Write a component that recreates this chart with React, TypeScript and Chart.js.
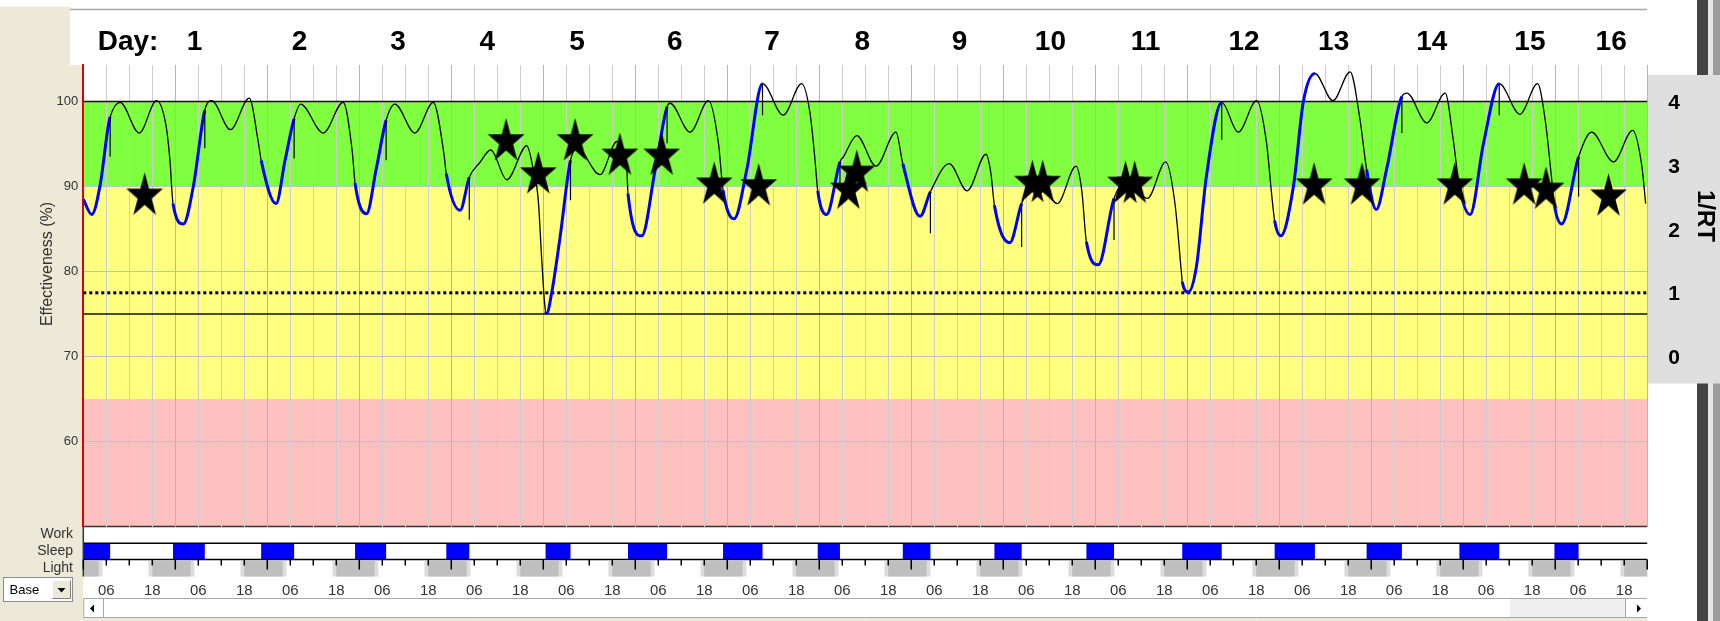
import React, { useEffect, useRef } from 'react';
import { Chart, registerables } from 'chart.js';

Chart.register(...registerables);

// ---------- DATA ----------
const effHours = [
  0, 2.2, 4.4, 6.5, 7.0, 9.6, 14.6, 19.1, 21.6, 22.6,
  23.4, 26.1, 28.7, 31.7, 33.5, 38.4, 43.3, 45.7,
  46.4, 50.3, 52.6, 55.0, 56.7, 62.6, 67.8, 70.2,
  70.9, 73.9, 76.4, 79.0, 81.3, 86.5, 91.3, 94.1,
  94.7, 98.3, 100.7, 103.4, 106.3, 110.5, 115.7, 117.4, 118.7, 119.6,
  120.6, 120.9, 122.2, 124.4, 127.1, 128.9, 134.8, 139.2, 141.8,
  142.1, 145.7, 149.2, 152.3, 153.1, 158.3, 163.1, 165.7,
  166.9, 169.8, 173.1, 177.2, 182.6, 187.4, 189.6, 190.9,
  191.6, 193.9, 197.4, 198.3, 201.8, 206.8, 212.0,
  213.8, 218.3, 221.0, 225.9, 230.6, 235.5, 236.8,
  237.7, 241.7, 244.8, 248.7, 254.1, 259.0, 260.5,
  261.7, 264.8, 268.9, 272.2, 277.6, 282.4, 284.8, 286.5,
  286.7, 288.3, 290.4, 293.0, 297.0, 301.3, 306.1, 308.7, 310.0,
  310.8, 312.4, 315.7, 318.3, 321.3, 326.0, 330.5, 333.1,
  334.8, 337.3, 340.0, 344.0, 345.3, 350.5, 355.3, 357.4,
  359.0, 361.8, 365.3, 369.4, 374.8, 379.4, 381.4, 383.1,
  383.8, 385.7, 390.1, 393.5, 399.2, 404.2, 406.6, 407.6,
];
const effValues = [
  88.5, 86.7, 90.2, 97.1, 98.2, 99.9, 96.3, 100.1, 97.1, 93.1,
  88.0, 85.6, 90.0, 99.0, 100.1, 96.7, 100.4, 95.1,
  93.1, 88.0, 93.0, 98.0, 99.7, 96.3, 99.9, 94.0,
  90.4, 86.8, 92.0, 97.8, 99.7, 96.3, 99.9, 93.8,
  91.5, 87.2, 91.1, 92.8, 94.3, 90.8, 94.8, 92.0, 88.4, 81.4,
  75.3, 75.1, 77.5, 84.1, 93.1, 94.5, 91.4, 95.3, 92.0,
  89.2, 84.2, 92.0, 99.4, 99.8, 96.4, 100.1, 95.1,
  89.6, 86.2, 92.0, 102.1, 98.4, 102.1, 98.6, 93.1,
  89.5, 86.7, 92.9, 93.5, 96.0, 92.4, 96.4,
  92.7, 86.5, 89.4, 92.7, 89.5, 93.8, 91.5,
  87.8, 83.4, 88.0, 91.0, 88.0, 92.4, 89.5,
  83.5, 80.8, 88.6, 90.6, 88.6, 92.9, 88.0, 79.8,
  78.8, 77.6, 80.6, 91.2, 99.9, 96.4, 100.1, 95.1, 89.2,
  86.0, 84.2, 90.0, 100.0, 103.3, 100.1, 103.5, 97.8,
  92.0, 87.3, 92.0, 100.6, 101.0, 97.5, 101.0, 95.5,
  90.0, 86.7, 95.1, 102.1, 98.5, 102.1, 97.8, 90.8,
  87.8, 85.6, 93.5, 96.4, 92.9, 96.6, 92.4, 88.0,
];

const sleepStart = [0, 23.4, 46.4, 70.9, 94.7, 120.6, 142.1, 166.9, 191.6, 213.8, 237.7, 261.7, 286.7, 310.8, 334.8, 359.0, 383.8];
const sleepEnd = [7.0, 31.7, 55.0, 79.0, 100.7, 127.1, 152.3, 177.2, 197.4, 221.0, 244.8, 268.9, 297.0, 321.3, 344.0, 369.4, 390.1];

const spikeHours = [7.0, 31.7, 55.0, 79.0, 100.7, 127.1, 152.3, 177.2, 197.4, 221.0, 244.8, 268.9, 297.0, 344.0, 369.4, 390.1];
const spikeLows = [93.5, 94.5, 93.3, 93.1, 86.1, 88.4, 95.1, 98.4, 89.6, 84.5, 82.9, 83.7, 95.5, 96.3, 98.4, 88.8];

const starHours = [16.0, 110.3, 118.7, 128.3, 140.0, 150.9, 164.6, 176.2, 199.6, 201.8, 247.6, 250.3, 271.9, 274.3, 321.1, 333.6, 357.8, 375.9, 381.6, 397.9];
const starValues = [88.9, 95.3, 91.4, 95.3, 93.6, 93.6, 90.2, 90.0, 89.6, 91.6, 90.4, 90.4, 90.3, 90.3, 90.1, 90.1, 90.1, 90.1, 89.6, 88.8];

const dayLabels = ['1', '2', '3', '4', '5', '6', '7', '8', '9', '10', '11', '12', '13', '14', '15', '16'];
const dayLabelHours = [29.0, 56.4, 82.1, 105.4, 128.8, 154.3, 179.7, 203.2, 228.6, 252.3, 277.1, 302.8, 326.2, 351.8, 377.4, 398.6];

const darkStart = [-6, 18, 42, 66, 90, 114, 138, 162, 186, 210, 234, 258, 282, 306, 330, 354, 378, 402];
const darkEnd = [4, 28, 52, 76, 100, 124, 148, 172, 196, 220, 244, 268, 292, 316, 340, 364, 388, 412];
const twilightHours = 1;

const yTickValues = [60, 70, 80, 90, 100];
const rtTickValues = [0, 1, 2, 3, 4];
const xLabelHours = [6, 18];
const xLabelTexts = ['06', '18'];

const greenBand = [90, 100];
const yellowBand = [65, 90];
const pinkBand = [50, 65];
const solidRefLines = [100, 75];
const dottedRefLine = 77.5;

// ---------- STYLE ----------
const BEIGE = '#ECE9D8';
const FONT = "'Liberation Sans', Arial, sans-serif";
const W = 1720;
const H = 621;

function makeStar(rx: number, ry: number) {
  const c = document.createElement('canvas');
  c.width = Math.ceil(rx * 2) + 2;
  c.height = Math.ceil(ry * 2) + 2;
  const g = c.getContext('2d')!;
  g.translate(c.width / 2, c.height / 2);
  g.beginPath();
  for (let k = 0; k < 10; k++) {
    const r = k % 2 === 0 ? 1 : 0.382;
    const a = -Math.PI / 2 + (k * Math.PI) / 5;
    const px = Math.cos(a) * r * rx;
    const py = Math.sin(a) * r * ry;
    if (k === 0) g.moveTo(px, py);
    else g.lineTo(px, py);
  }
  g.closePath();
  g.fillStyle = '#000';
  g.fill();
  return c;
}

function inSleep(t: number) {
  for (let i = 0; i < sleepStart.length; i++) {
    if (t >= sleepStart[i] && t <= sleepEnd[i]) return true;
  }
  return false;
}

const ROW_WORK_TOP = 526.6;
const ROW_SLEEP_TOP = 543.3;
const ROW_SLEEP_BOT = 559.6;
const ROW_LIGHT_BOT = 576.5;
const SCROLL_TOP = 598.5;
const SCROLL_BOT = 617.5;

const bgPlugin = {
  id: 'bgPlugin',
  beforeDraw(chart: any) {
    const { ctx, chartArea: ca, scales } = chart;
    const x = scales.x;
    const y = scales.y;
    const xp = (h: number) => Math.max(ca.left, Math.min(ca.right, x.getPixelForValue(h)));
    ctx.save();
    ctx.fillStyle = '#fff';
    ctx.fillRect(0, 0, W, H);
    // beige surround
    ctx.fillStyle = BEIGE;
    ctx.fillRect(0, 6.5, 70, H);
    ctx.fillRect(0, ca.top, ca.left, H - ca.top);
    ctx.fillRect(0, SCROLL_BOT, ca.right, H - SCROLL_BOT);
    // header
    ctx.fillStyle = '#fff';
    ctx.fillRect(70, 9.5, ca.right - 70, ca.top - 9.5);
    ctx.strokeStyle = '#a8a8a8';
    ctx.lineWidth = 1.5;
    ctx.beginPath();
    ctx.moveTo(70, 9.5);
    ctx.lineTo(ca.right, 9.5);
    ctx.stroke();
    // right-hand dark bars
    ctx.fillStyle = '#454545';
    ctx.fillRect(1697, 0, 11, H);
    ctx.fillStyle = '#e6e6e6';
    ctx.fillRect(1708, 0, 5, H);
    ctx.fillStyle = '#9c9c9c';
    ctx.fillRect(1713, 0, 7, H);
    // right grey panel
    ctx.fillStyle = '#dfdfdf';
    ctx.fillRect(1647, 75, W - 1647, 383.5 - 75);
    // bands
    const band = (b: number[], col: string) => {
      const y1 = y.getPixelForValue(b[1]);
      const y0 = y.getPixelForValue(b[0]);
      ctx.fillStyle = col;
      ctx.fillRect(ca.left, y1, ca.right - ca.left, y0 - y1);
    };
    band(greenBand, '#80FF40');
    band(yellowBand, '#FFFF80');
    band(pinkBand, '#FFC0C0');

    // rows
    ctx.fillStyle = '#fff';
    ctx.fillRect(ca.left, ROW_WORK_TOP, ca.right - ca.left, SCROLL_BOT - ROW_WORK_TOP);
    // sleep blocks
    ctx.fillStyle = '#0000FF';
    for (let i = 0; i < sleepStart.length; i++) {
      const a = xp(sleepStart[i]);
      const b = xp(sleepEnd[i]);
      ctx.fillRect(a, ROW_SLEEP_TOP, b - a, ROW_SLEEP_BOT - ROW_SLEEP_TOP);
    }
    // light blocks
    for (let i = 0; i < darkStart.length; i++) {
      const a = xp(darkStart[i] - twilightHours);
      const b = xp(darkEnd[i] + twilightHours);
      if (b > a) {
        ctx.fillStyle = '#dcdcdc';
        ctx.fillRect(a, ROW_SLEEP_BOT + 1.5, b - a, ROW_LIGHT_BOT - ROW_SLEEP_BOT - 1.5);
      }
      const c = xp(darkStart[i]);
      const d = xp(darkEnd[i]);
      if (d > c) {
        ctx.fillStyle = '#bfbfbf';
        ctx.fillRect(c, ROW_SLEEP_BOT + 1.5, d - c, ROW_LIGHT_BOT - ROW_SLEEP_BOT - 1.5);
      }
    }
    // row lines
    ctx.strokeStyle = '#000';
    ctx.lineWidth = 1.5;
    ctx.beginPath();
    ctx.moveTo(ca.left, ROW_SLEEP_TOP);
    ctx.lineTo(ca.right, ROW_SLEEP_TOP);
    ctx.moveTo(ca.left, ROW_SLEEP_BOT);
    ctx.lineTo(ca.right, ROW_SLEEP_BOT);
    ctx.stroke();
    ctx.strokeStyle = '#333';
    ctx.beginPath();
    ctx.moveTo(ca.left, ca.bottom);
    ctx.lineTo(ca.right, ca.bottom);
    ctx.moveTo(ca.left, ca.bottom);
    ctx.lineTo(ca.left, ROW_LIGHT_BOT);
    ctx.stroke();
    // light-row ticks
    ctx.strokeStyle = '#000';
    ctx.lineWidth = 1.5;
    ctx.beginPath();
    x.ticks.forEach((t: any) => {
      const px = x.getPixelForValue(t.value);
      const long = Math.round(t.value) % 24 === 0;
      ctx.moveTo(px, ROW_SLEEP_BOT);
      ctx.lineTo(px, ROW_SLEEP_BOT + (long ? 10 : 6));
    });
    ctx.stroke();

    // scrollbar
    ctx.fillStyle = '#fff';
    ctx.fillRect(ca.left, SCROLL_TOP, ca.right - ca.left, SCROLL_BOT - SCROLL_TOP);
    ctx.fillStyle = '#efefef';
    ctx.fillRect(1510, SCROLL_TOP, 1625 - 1510, SCROLL_BOT - SCROLL_TOP);
    ctx.strokeStyle = '#a8a8a8';
    ctx.lineWidth = 1;
    ctx.beginPath();
    ctx.moveTo(ca.left, SCROLL_TOP);
    ctx.lineTo(ca.right, SCROLL_TOP);
    ctx.moveTo(ca.left, SCROLL_BOT);
    ctx.lineTo(ca.right, SCROLL_BOT);
    ctx.moveTo(ca.left + 0.5, SCROLL_TOP);
    ctx.lineTo(ca.left + 0.5, SCROLL_BOT);
    ctx.moveTo(103.5, SCROLL_TOP);
    ctx.lineTo(103.5, SCROLL_BOT);
    ctx.moveTo(1625.5, SCROLL_TOP);
    ctx.lineTo(1625.5, SCROLL_BOT);
    ctx.stroke();
    ctx.fillStyle = '#000';
    ctx.beginPath();
    ctx.moveTo(90, 608.5);
    ctx.lineTo(94, 604.5);
    ctx.lineTo(94, 612.5);
    ctx.closePath();
    ctx.fill();
    ctx.beginPath();
    ctx.moveTo(1641, 608.5);
    ctx.lineTo(1637, 604.5);
    ctx.lineTo(1637, 612.5);
    ctx.closePath();
    ctx.fill();

    // Base dropdown
    ctx.fillStyle = '#fff';
    ctx.fillRect(3, 577, 70, 25);
    ctx.strokeStyle = '#8c8c8c';
    ctx.lineWidth = 1;
    ctx.strokeRect(3.5, 577.5, 69, 24);
    ctx.fillStyle = BEIGE;
    ctx.fillRect(52, 580, 19, 19);
    ctx.strokeStyle = '#fff';
    ctx.beginPath();
    ctx.moveTo(52.5, 598.5);
    ctx.lineTo(52.5, 580.5);
    ctx.lineTo(70.5, 580.5);
    ctx.stroke();
    ctx.strokeStyle = '#808080';
    ctx.beginPath();
    ctx.moveTo(70.5, 580.5);
    ctx.lineTo(70.5, 598.5);
    ctx.lineTo(52.5, 598.5);
    ctx.stroke();
    ctx.fillStyle = '#000';
    ctx.beginPath();
    ctx.moveTo(57.5, 588);
    ctx.lineTo(65.5, 588);
    ctx.lineTo(61.5, 592.5);
    ctx.closePath();
    ctx.fill();
    ctx.restore();
  },
  beforeDatasetsDraw(chart: any) {
    const { ctx, chartArea: ca, scales } = chart;
    const y = scales.y;
    ctx.save();
    ctx.strokeStyle = '#111';
    ctx.lineWidth = 1.5;
    solidRefLines.forEach((v) => {
      const yy = y.getPixelForValue(v);
      ctx.beginPath();
      ctx.moveTo(ca.left, yy);
      ctx.lineTo(ca.right, yy);
      ctx.stroke();
    });
    ctx.strokeStyle = '#000';
    ctx.lineWidth = 3;
    ctx.setLineDash([3, 3]);
    const yd = y.getPixelForValue(dottedRefLine);
    ctx.beginPath();
    ctx.moveTo(ca.left, yd);
    ctx.lineTo(ca.right, yd);
    ctx.stroke();
    ctx.restore();
  },
  afterDraw(chart: any) {
    const { ctx, scales } = chart;
    const x = scales.x;
    ctx.save();
    // header
    ctx.fillStyle = '#000';
    ctx.font = `bold 28px ${FONT}`;
    ctx.textAlign = 'center';
    ctx.textBaseline = 'alphabetic';
    ctx.fillText('Day:', 128, 49.5);
    dayLabels.forEach((lab, i) => {
      ctx.fillText(lab, x.getPixelForValue(dayLabelHours[i]), 49.5);
    });
    // y title
    ctx.save();
    ctx.translate(47.5, 264);
    ctx.rotate(-Math.PI / 2);
    ctx.font = `16px ${FONT}`;
    ctx.fillStyle = '#333';
    ctx.textAlign = 'center';
    ctx.textBaseline = 'middle';
    ctx.fillText('Effectiveness (%)', 0, 0);
    ctx.restore();
    // 1/RT
    ctx.save();
    ctx.translate(1705, 216);
    ctx.rotate(Math.PI / 2);
    ctx.font = `bold 24px ${FONT}`;
    ctx.fillStyle = '#000';
    ctx.textAlign = 'center';
    ctx.textBaseline = 'middle';
    ctx.fillText('1/RT', 0, 0);
    ctx.restore();
    // row labels
    ctx.font = `14px ${FONT}`;
    ctx.fillStyle = '#333';
    ctx.textAlign = 'right';
    ctx.textBaseline = 'middle';
    ctx.fillText('Work', 73, 534.5);
    ctx.fillText('Sleep', 73, 551.5);
    ctx.fillText('Light', 73, 568);
    // Base
    ctx.font = `13px ${FONT}`;
    ctx.fillStyle = '#000';
    ctx.textAlign = 'left';
    ctx.fillText('Base', 9.5, 590);
    ctx.restore();
  },
};

export default function App() {
  const ref = useRef<HTMLCanvasElement>(null);
  useEffect(() => {
    const canvas = ref.current!;
    const star = makeStar(19.3, 23.5);
    const effData = effHours.map((h, i) => ({ x: h, y: effValues[i] }));
    const spikeData: { x: number; y: number | null }[] = [];
    spikeHours.forEach((h, i) => {
      const top = effValues[effHours.indexOf(h)];
      spikeData.push({ x: h, y: top }, { x: h, y: spikeLows[i] }, { x: h, y: null });
    });
    const starData = starHours.map((h, i) => ({ x: h, y: starValues[i] }));

    const chart = new Chart(canvas, {
      type: 'line',
      data: {
        datasets: [
          {
            data: starData,
            yAxisID: 'y',
            showLine: false,
            pointStyle: star as any,
            pointRadius: 20,
            pointHoverRadius: 20,
            order: 0,
          },
          {
            data: spikeData as any,
            yAxisID: 'y',
            borderColor: '#000',
            borderWidth: 1.2,
            pointRadius: 0,
            spanGaps: false,
            order: 1,
          },
          {
            data: effData,
            yAxisID: 'y',
            borderColor: '#000',
            borderWidth: 1.3,
            pointRadius: 0,
            cubicInterpolationMode: 'monotone',
            segment: {
              borderColor: (c: any) => (inSleep((c.p0.parsed.x + c.p1.parsed.x) / 2) ? '#0000FF' : '#000'),
              borderWidth: (c: any) => (inSleep((c.p0.parsed.x + c.p1.parsed.x) / 2) ? 3 : 1.3),
            },
            order: 2,
          } as any,
        ],
      },
      options: {
        responsive: false,
        animation: false,
        events: [],
        layout: { padding: { top: 65, left: 0, right: 0, bottom: 0 } },
        plugins: { legend: { display: false }, tooltip: { enabled: false } },
        scales: {
          x: {
            type: 'linear',
            min: 0,
            max: 408,
            afterFit: (s: any) => {
              s.height = 94.4;
            },
            border: { display: false },
            grid: {
              drawTicks: false,
              color: (c: any) => (c.tick && Math.round(c.tick.value) % 24 === 0 ? '#b6b6b6' : '#cdcdcd'),
              lineWidth: 1,
            },
            ticks: {
              stepSize: 6,
              autoSkip: false,
              maxRotation: 0,
              minRotation: 0,
              padding: 55,
              font: { family: FONT, size: 15 },
              color: '#333',
              callback: (v: any) => {
                const k = xLabelHours.indexOf(Math.round(Number(v)) % 24);
                return k >= 0 ? xLabelTexts[k] : '';
              },
            },
          },
          y: {
            position: 'left',
            min: 50,
            max: 104.3,
            afterBuildTicks: (s: any) => {
              s.ticks = yTickValues.map((v) => ({ value: v }));
            },
            afterFit: (s: any) => {
              s.width = 83.3;
            },
            border: { color: '#e00000', width: 2 },
            grid: { drawTicks: false, color: '#c0c0c0' },
            ticks: { padding: 5, font: { family: FONT, size: 13 }, color: '#333' },
          },
          y2: {
            position: 'right',
            min: -2.64,
            max: 4.6,
            afterBuildTicks: (s: any) => {
              s.ticks = rtTickValues.map((v) => ({ value: v }));
            },
            afterFit: (s: any) => {
              s.width = W - 1647.2;
            },
            border: { display: false },
            grid: { display: false, drawTicks: false },
            ticks: { padding: 21, font: { family: FONT, size: 21, weight: 'bold' }, color: '#000' },
          },
        },
      } as any,
      plugins: [bgPlugin],
    });
    return () => chart.destroy();
  }, []);

  return (
    <div style={{ position: 'absolute', left: 0, top: 0, width: W, height: H }}>
      <canvas ref={ref} width={W} height={H} style={{ display: 'block', width: W, height: H }} />
    </div>
  );
}
